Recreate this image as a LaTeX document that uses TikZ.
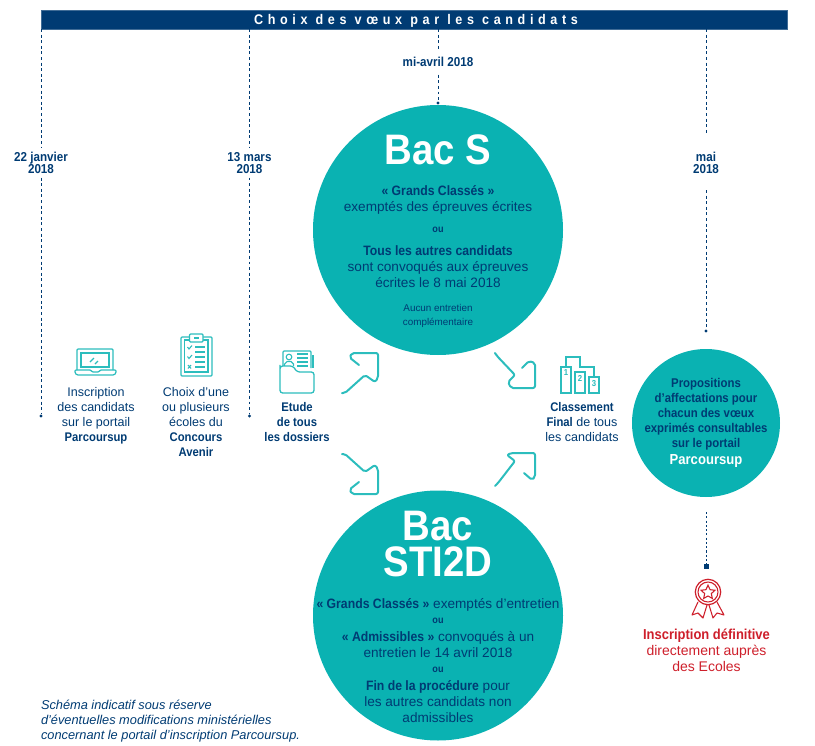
\documentclass[tikz,border=0pt]{standalone}
\usepackage{fontspec}
\setmainfont[BoldFeatures={FakeStretch=0.9}]{Liberation Sans}
\usetikzlibrary{shapes.geometric}
\definecolor{navy}{HTML}{003B73}
\definecolor{tealc}{HTML}{0AB2B2}
\definecolor{teall}{HTML}{2CBDBD}
\definecolor{redc}{HTML}{CE1F2B}
\newcommand{\fs}[2]{\fontsize{#1}{#2}\selectfont}
\newcommand{\bigarrowpath}{(-36,40) -- (-33,40) -- (-13,22) -- (-3,29) -- (0,25) -- (0,0) -- (-26,0) -- (-28.5,4.5) -- (-19,12)}
\tikzset{
  every node/.style={inner sep=0pt,outer sep=0pt},
  banner/.style={fill=navy,draw=navy!75,line width=.4pt,minimum width=559.5pt,minimum height=14.25pt},
  bannertxt/.style={text=white,font=\bfseries\fs{10.5}{11}},
  bigdisc/.style={circle,fill=tealc,minimum size=187.5pt},
  smalldisc/.style={circle,fill=tealc,minimum size=111pt},
  lab/.style={align=center,text=navy,font=\fs{9.4}{11.25}},
  date/.style={align=center,text=navy,font=\bfseries\fs{9.7}{8.9},inner sep=3pt},
  disctxt/.style={align=center,text=navy,font=\fs{10.2}{12}},
  disctitle/.style={align=center,text=white,font=\bfseries\fs{32}{27}},
  ouword/.style={align=center,text=navy,font=\bfseries\fs{7.6}{8}},
  smalltxt/.style={align=center,text=navy,font=\fs{7.4}{10.5}},
  rightxt/.style={align=center,text=navy,font=\bfseries\fs{9.5}{11.25}},
  redtxt/.style={align=center,text=redc,font=\fs{10.5}{12}},
  note/.style={align=left,anchor=west,text=navy,font=\itshape\fs{9.6}{11.25}},
  dashln/.style={navy,line width=.6pt,dash pattern=on 2.2pt off 2pt},
  dotln/.style={navy,line width=1pt,dash pattern=on 1.6pt off 1.6pt},
  enddot/.style={circle,fill=navy,minimum size=2.6pt},
  endsq/.style={rectangle,fill=navy,minimum size=3.9pt},
  icon/.style={teall,line width=.95pt,line join=round,rounded corners=.8pt},
  iconfine/.style={teall,line width=.8pt},
  arr/.style={teall,line width=1.5pt,line cap=round,line join=round,rounded corners=1.5pt},
  rib/.style={redc,line width=.8pt,line join=round},
}
\begin{document}
\begin{tikzpicture}[x=.75pt,y=-.75pt]
\useasboundingbox (0,0) rectangle (815,746);
% banner
\node[banner] (bar) at (414,19.5) {};
\node[bannertxt] (bart) at (416,20.5) {\addfontfeatures{LetterSpace=33}Choix des vœux par les candidats};
% discs
\node[bigdisc] (bacs) at (438,230) {};
\node[bigdisc] (sti) at (438,615.5) {};
\node[smalldisc] (prop) at (706,423) {};
% timeline coordinates and dates
\coordinate (t1) at (41,29);
\coordinate (t2) at (249.5,29);
\coordinate (t3) at (438,29);
\coordinate (t4) at (706,29);
\node[date] (d1) at (41,163) {22 janvier\\2018};
\node[date] (d2) at (249.5,163) {13 mars\\2018};
\node[date,font=\bfseries\fs{9.7}{9},inner sep=6pt] (d3) at (438,62) {mi-avril 2018};
\node[date] (d4) at (706,163) {mai\\2018};
\node[enddot] (e1) at (41,416) {};
\node[enddot] (e2) at (249.5,416) {};
\node[enddot] (e3) at (438,103) {};
\node[enddot] (e4) at (706,331) {};
\coordinate (c4a) at (706,135);
\coordinate (c4b) at (706,190);
\draw[dashln] (t1) -- (d1);
\draw[dashln] (d1) -- (e1);
\draw[dashln] (t2) -- (d2);
\draw[dashln] (d2) -- (e2);
\draw[dashln] (t3) -- (d3);
\draw[dashln] (d3) -- (e3);
\draw[dashln] (t4) -- (c4a);
\draw[dashln] (c4b) -- (e4);
\coordinate (c5) at (706.5,512);
\node[endsq] (sq) at (706.5,566.5) {};
\draw[dotln] (c5) -- (sq);
% Bac S
\node[disctitle] (bacst) at (438,150) {Bac S};
\node[disctxt] (bs1) at (438,200) {\textbf{« Grands Classés »}\\exemptés des épreuves écrites};
\node[ouword] (bs2) at (438,230) {ou};
\node[disctxt] (bs3) at (438,267) {\textbf{Tous les autres candidats}\\sont convoqués aux épreuves\\écrites le 8 mai 2018};
\node[smalltxt] (bs4) at (438,316) {Aucun entretien\\complémentaire};
% Bac STI2D
\node[disctitle] (stit) at (438,544) {Bac\\STI2D};
\node[disctxt] (st1) at (438,605) {\textbf{« Grands Classés »} exemptés d’entretien};
\node[ouword] (st2) at (438,621) {ou};
\node[disctxt] (st3) at (438,645) {\textbf{« Admissibles »} convoqués à un\\entretien le 14 avril 2018};
\node[ouword] (st4) at (438,670) {ou};
\node[disctxt] (st5) at (438,702) {\textbf{Fin de la procédure} pour\\les autres candidats non\\admissibles};
% right disc
\node[rightxt] (pr1) at (706,414) {Propositions\\d’affectations pour\\chacun des vœux\\exprimés consultables\\sur le portail};
\node[rightxt,text=white,font=\bfseries\fs{10.9}{12}] (pr2) at (706,461.5) {Parcoursup};
% labels
\node[lab] (l1) at (96,415.5) {Inscription\\des candidats\\sur le portail\\\textbf{Parcoursup}};
\node[lab] (l2) at (196,422.5) {Choix d’une\\ou plusieurs\\écoles du\\\textbf{Concours}\\\textbf{Avenir}};
\node[lab] (l3) at (297,422.3) {\textbf{Etude}\\\textbf{de tous}\\\textbf{les dossiers}};
\node[lab] (l4) at (582,422.3) {\textbf{Classement}\\\textbf{Final} de tous\\les candidats};
\node[redtxt] (r1) at (706.5,650.3) {{\fs{10.8}{12}\textbf{Inscription définitive}}\\directement auprès\\des Ecoles};
\node[note] (n1) at (41,721) {Schéma indicatif sous réserve\\d’éventuelles modifications ministérielles\\concernant le portail d’inscription Parcoursup.};
% arrows
\draw[arr,shift={(378,353)}] \bigarrowpath;
\draw[arr,shift={(378,494)},yscale=-1] \bigarrowpath;
\draw[arr,shift={(535,388)}] (-40,-35) -- (-38,-32) -- (-20,-13) -- (-27,-6) -- (-24,0) -- (0,0) -- (0,-25) -- (-6,-27) -- (-13,-20);
\draw[arr,shift={(535,453)}] (-40,33) -- (-37,30) -- (-20,8) -- (-28,2) -- (-24,0) -- (0,0) -- (0,24) -- (-3,27) -- (-11,20);
% laptop
\draw[icon] (77,370) -- (77,349) -- (113,349) -- (113,370);
\draw[iconfine] (81,353) rectangle (109,367);
\draw[icon] (75,370) -- (91,370) -- (92,372) -- (99,372) -- (100,370) -- (116,370) -- (116,373) -- (114,375) -- (77,375) -- (75,373) -- cycle;
\draw[iconfine] (90,362) -- (94,358) (95,364) -- (98,361);
% clipboard
\draw[icon] (181,337) rectangle (212,376);
\draw[iconfine] (184.5,340) rectangle (208,372);
\draw[icon,fill=white] (189.5,334) rectangle (203,342);
\draw[iconfine] (194,338) -- (199,338);
\foreach \yy in {347,352,357,362,367}{\draw[iconfine] (195,\yy) -- (205,\yy);}
\draw[iconfine] (187.5,347) -- (189,349) -- (192,345.5);
\draw[iconfine] (187.5,356.5) -- (189,358.5) -- (192,355);
\draw[iconfine] (188,365) -- (191,368.5) (191,365) -- (188,368.5);
% folder
\draw[icon] (283,367) -- (283,351) -- (311,351) -- (311,368);
\draw[iconfine] (313,355) -- (313,368);
\draw[iconfine] (289,357) circle (2.8);
\draw[iconfine] (284.5,366) -- (284.5,364) -- (287,361.5) -- (291,361.5) -- (293.5,364) -- (293.5,366);
\foreach \yy in {354,358,362,366}{\draw[iconfine] (297,\yy) -- (308,\yy);}
\draw[icon,fill=white,rounded corners=2pt] (280,368) -- (280,366) -- (293,366) -- (297,372) -- (314,372) -- (314,393) -- (280,393) -- cycle;
% podium
\draw[iconfine] (566,367) -- (566,357) -- (580,357) -- (580,367) -- (594,367) -- (594,377);
\draw[iconfine,fill=white] (561,367) rectangle (571,393);
\draw[iconfine,fill=white] (575,372) rectangle (585,393);
\draw[iconfine,fill=white] (589,377) rectangle (599,393);
\node[text=teall,font=\bfseries\fs{6.5}{6}] (p1) at (566,373) {1};
\node[text=teall,font=\bfseries\fs{6.5}{6}] (p2) at (580,378) {2};
\node[text=teall,font=\bfseries\fs{6.5}{6}] (p3) at (594,384) {3};
% badge
\draw[rib] (698,602) -- (692,615) -- (698,613) -- (703,618) -- (707,605);
\draw[rib] (717,602) -- (724,615) -- (717,613) -- (713,618) -- (709,605);
\draw[redc,line width=.9pt,fill=white] (708,592) circle (12.7);
\draw[redc,line width=.8pt] (708,592) circle (10);
\node[star,star points=5,star point ratio=2.1,draw=redc,line width=.8pt,minimum size=11pt] (st) at (708,592.5) {};
\end{tikzpicture}
\end{document}
